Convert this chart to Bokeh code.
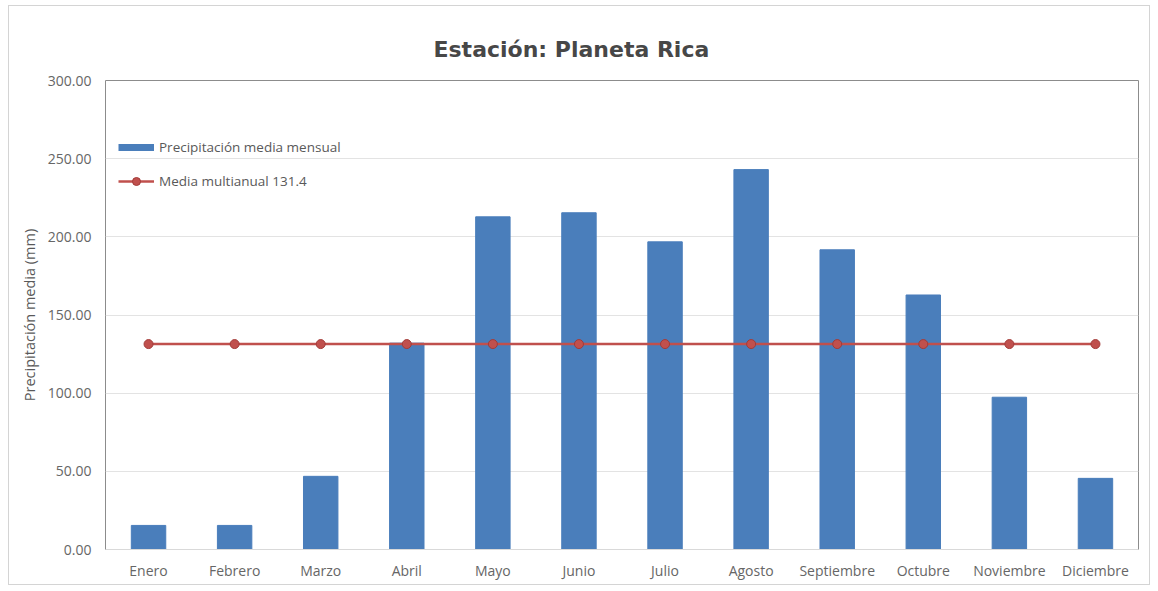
from bokeh.plotting import figure
from bokeh.models import FactorRange, NumeralTickFormatter, Range1d, Legend, LegendItem, FixedTicker
from bokeh.embed import file_html
from bokeh.resources import INLINE

meses = ["Enero", "Febrero", "Marzo", "Abril", "Mayo", "Junio", "Julio",
         "Agosto", "Septiembre", "Octubre", "Noviembre", "Diciembre"]
precipitacion = [15.4, 15.4, 46.8, 132.0, 212.8, 215.4, 196.8, 243.0, 191.7, 162.8, 97.4, 45.5]
media_multianual = 131.4
media_serie = [media_multianual] * len(meses)
y_ticks = [0, 50, 100, 150, 200, 250, 300]

p = figure(width=1142, height=580, x_range=FactorRange(*meses, range_padding=0),
           y_range=Range1d(0, 300), output_backend="svg", toolbar_location=None,
           min_border_left=96, min_border_right=13, min_border_bottom=37, min_border_top=74)
p.margin = (5, 0, 0, 8)
p.styles = {"border": "1px solid #d4d4d4"}

p.title.text = "Estación: Planeta Rica"
p.title.align = "left"
p.title.offset = 328
p.title.standoff = 37
p.title.text_font = "DejaVu Sans"
p.title.text_font_style = "bold"
p.title.text_font_size = "22px"
p.title.text_color = "#474747"

bars = p.vbar(x=meses, top=precipitacion, width=0.4, fill_color="#4A7EBB", line_color="#4A7EBB")
ln = p.line(x=meses, y=media_serie, line_color="#C0504D", line_width=2.5)
pts = p.scatter(x=meses, y=media_serie, size=9, fill_color="#C0504D", line_color="#A33B38")
# legend swatch for the bars (thin blue band, as in the reference); NaN so nothing is drawn in the plot
bar_swatch = p.line(x=meses[:2], y=[float("nan"), float("nan")], line_color="#4A7EBB", line_width=7)

p.outline_line_color = "#8c8c8c"
p.outline_line_width = 1
p.xgrid.grid_line_color = None
p.ygrid.grid_line_color = "#e3e3e3"
p.yaxis.ticker = FixedTicker(ticks=y_ticks)
p.yaxis.formatter = NumeralTickFormatter(format="0.00")

for ax in (p.xaxis, p.yaxis):
    ax.axis_line_color = "#d9d9d9"
    ax.major_tick_line_color = None
    ax.minor_tick_line_color = None
    ax.major_tick_out = 0
    ax.major_tick_in = 0
    ax.major_label_text_font = "Open Sans"
    ax.major_label_text_font_size = "14px"
    ax.major_label_text_color = "#666666"
p.yaxis.axis_line_color = None
p.yaxis.major_label_standoff = 14
p.xaxis.major_label_standoff = 11
p.yaxis.axis_label = "Precipitación media (mm)"
p.yaxis.axis_label_text_font = "Open Sans"
p.yaxis.axis_label_text_font_style = "normal"
p.yaxis.axis_label_text_font_size = "14.5px"
p.yaxis.axis_label_text_color = "#595959"
p.yaxis.axis_label_standoff = 6

legend = Legend(items=[
    LegendItem(label="Precipitación media mensual", renderers=[bar_swatch]),
    LegendItem(label="Media multianual 131.4", renderers=[ln, pts]),
], location=(13, 358))
legend.border_line_color = None
legend.background_fill_alpha = 0
legend.margin = 0
legend.padding = 0
legend.spacing = 14
legend.glyph_width = 36
legend.glyph_height = 20
legend.label_height = 20
legend.label_standoff = 5
legend.label_text_font = "Open Sans"
legend.label_text_font_size = "13.5px"
legend.label_text_color = "#595959"
p.add_layout(legend, "center")

open("out.html", "w").write(file_html(p, INLINE))
